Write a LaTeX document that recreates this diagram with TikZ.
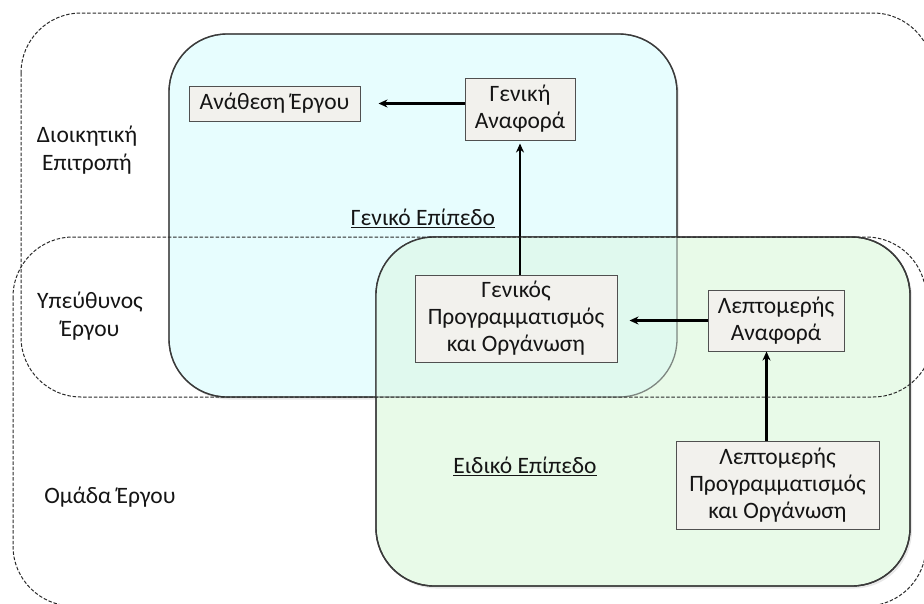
\documentclass[tikz,border=0pt]{standalone}
\usepackage{fontspec}
\setmainfont{Carlito}
\usetikzlibrary{arrows.meta,calc,shadows}

\definecolor{inkline}{HTML}{3A3A3A}
\definecolor{panelblue}{HTML}{E7FDFE}
\definecolor{panelgreen}{HTML}{E8FAE8}
\definecolor{panelmix}{HTML}{E0F9EE}
\definecolor{boxfill}{HTML}{F2F1ED}
\definecolor{boxline}{HTML}{505050}
\definecolor{zoneline}{HTML}{2A2A2A}
\definecolor{txt}{HTML}{151515}

\tikzset{
  panelshape/.style={rounded corners=58pt},
  panel/.style={panelshape, draw=inkline, line width=1.4pt,
    drop shadow={opacity=0.18, shadow xshift=2pt, shadow yshift=-2.5pt}},
  zone/.style={draw=zoneline, line width=1pt, dash pattern=on 3.5pt off 1.8pt,
    rounded corners=60pt},
  stepbox/.style={draw=boxline, line width=1pt, fill=boxfill, inner sep=0pt,
    align=center, text=txt, font=\fontsize{23.5}{27}\selectfont},
  lbl/.style={align=center, text=txt, inner sep=0pt,
    font=\fontsize{23.5}{28}\selectfont},
  arr/.style={-{Stealth[length=9pt,width=8pt]}, line width=2.6pt, draw=black}
}

\begin{document}
\begin{tikzpicture}[x=1pt,y=-1pt]
  \useasboundingbox (0,0) rectangle (924,603);
  \fill[white] (0,0) rectangle (924,603);

  % general level panel
  \path[panel, fill=panelblue] (169,34) rectangle (677,397);
  % specific level panel
  \path[panel, fill=panelgreen] (376,237) rectangle (910,586);
  % shared part of both panels
  \begin{scope}
    \clip[panelshape] (169,34) rectangle (677,397);
    \fill[panelmix, panelshape] (376,237) rectangle (910,586);
  \end{scope}
  % outline of the general panel seen through the specific one
  \draw[panelshape, draw=inkline, draw opacity=0.6, line width=1.3pt] (169,34) rectangle (677,397);
  \draw[panelshape, draw=inkline, line width=1.4pt] (376,237) rectangle (910,586);

  % activity boxes
  \node[stepbox, minimum width=171pt, minimum height=35pt] (an) at (274.5,103.5) {Ανάθεση Έργου};
  \node[stepbox, minimum width=110pt, minimum height=62pt] (ga) at (520,109) {Γενική\\Αναφορά};
  \node[stepbox, minimum width=202pt, minimum height=87pt] (gp) at (516,318.5) {Γενικός\\Προγραμματισμός\\και Οργάνωση};
  \node[stepbox, minimum width=136pt, minimum height=61pt] (la) at (776,320.5) {Λεπτομερής\\Αναφορά};
  \node[stepbox, minimum width=203pt, minimum height=88pt] (lp) at (777.5,485) {Λεπτομερής\\Προγραμματισμός\\και Οργάνωση};

  % reporting flow
  \draw[arr, shorten >=18pt] (ga.west |- an.east) -- (an.east);
  \draw[arr, shorten >=3pt] (gp.north -| ga.south) -- (ga.south);
  \draw[arr, shorten >=12pt] (la.west) -- (la.west -| gp.east);
  \coordinate (lpTop) at ($(lp.north)+(-11,0)$);
  \draw[arr] (lpTop) -- (lpTop |- la.south);

  % responsibility zones
  \path[zone] (21,13) rectangle (933,397);
  \path[zone] (13,237) rectangle (926,606);

  % zone and level labels
  \node[lbl] (dio) at (87,150) {Διοικητική\\Επιτροπή};
  \node[lbl] (ype) at (90,316) {Υπεύθυνος\\Έργου};
  \node[lbl] (oma) at (110,497) {Ομάδα Έργου};
  \node[lbl] (gen) at (423,218) {\underline{Γενικό Επίπεδο}};
  \node[lbl] (eid) at (525,466) {\underline{Ειδικό Επίπεδο}};
\end{tikzpicture}
\end{document}
